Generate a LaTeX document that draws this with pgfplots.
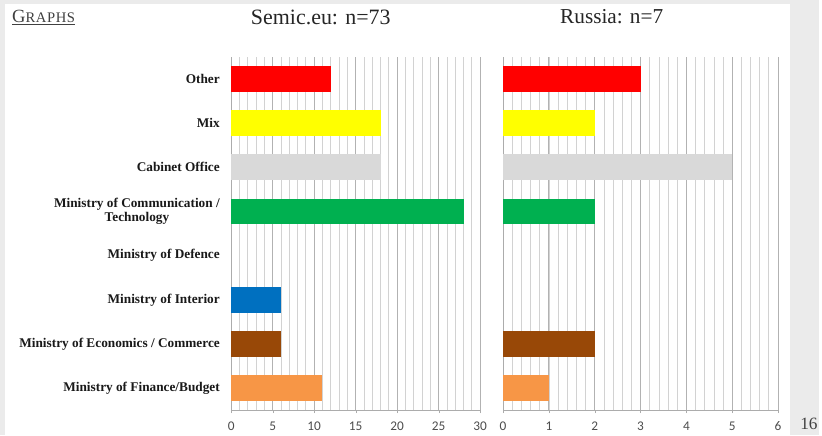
\documentclass[border=0pt]{standalone}
\usepackage{fontspec}
\setmainfont{Liberation Serif}
\newfontfamily\tickfont{Carlito}
\usepackage{pgfplots}
\pgfplotsset{compat=1.18}
\definecolor{cRed}{HTML}{FF0000}
\definecolor{cYellow}{HTML}{FFFF00}
\definecolor{cGray}{HTML}{D9D9D9}
\definecolor{cGreen}{HTML}{00B050}
\definecolor{cBlue}{HTML}{0070C0}
\definecolor{cBrown}{HTML}{984807}
\definecolor{cOrange}{HTML}{F79646}
\definecolor{bgGray}{HTML}{EBEBEB}
\definecolor{tickGray}{HTML}{4D4D4D}
\pgfplotsset{
  slidebar/.style={
    scale only axis,
    xbar, bar shift=0pt, bar width=19.5pt,
    height=266.25pt,
    ymin=-0.5, ymax=7.5,
    ytick={0,...,7},
    axis x line=bottom, axis y line=left,
    axis line style={-, gray!65},
    xmajorgrids, xminorgrids,
    major grid style={gray!60, line width=0.8pt},
    minor grid style={gray!35, line width=0.6pt},
    ytick style={draw=none},
    xtick style={gray!65},
    tick align=outside,
    major tick length=2pt, minor tick length=0pt,
    /pgf/number format/assume math mode=true,
    xticklabel style={font=\tickfont\fontsize{10}{10}\selectfont, text=tickGray, yshift=-3pt},
  }
}
\begin{document}
\begin{tikzpicture}
\fill[bgGray] (0,0) rectangle (616.5pt,327.75pt);
\fill[white] (3.75pt,0) rectangle (594.75pt,324.75pt);
\node[anchor=west, inner sep=0pt, text=black!75] at (9pt,314.25pt) {\underline{{\fontsize{14}{14}\selectfont G}{\fontsize{11}{11}\selectfont\addfontfeatures{LetterSpace=4}RAPHS}}};
\node[text=black!85, font=\fontsize{16.5}{17}\selectfont] at (241.5pt,315pt) {Semic.eu: n=73};
\node[text=black!85, font=\fontsize{16}{17}\selectfont] at (460.5pt,315pt) {Russia: n=7};
\node[text=black!75, font=\fontsize{13}{13}\selectfont] at (609pt,8.5pt) {16};

\begin{axis}[slidebar,
  at={(174pt,18.75pt)}, anchor=south west,
  width=187.5pt,
  xmin=0, xmax=30,
  xtick={0,5,...,30}, minor xtick={0,...,30},
  yticklabels={Ministry of Finance/Budget, Ministry of Economics / Commerce, Ministry of Interior, Ministry of Defence, {Ministry of Communication /\\ Technology}, Cabinet Office, Mix, Other},
  yticklabel style={font=\bfseries\fontsize{10}{10.5}\selectfont, align=center, text=black!90, xshift=-3pt},
]
\addplot[fill=cOrange, draw=none] coordinates {(11,0)};
\addplot[fill=cBrown, draw=none] coordinates {(6,1)};
\addplot[fill=cBlue, draw=none] coordinates {(6,2)};
\addplot[fill=cGreen, draw=none] coordinates {(28,4)};
\addplot[fill=cGray, draw=none] coordinates {(18,5)};
\addplot[fill=cYellow, draw=none] coordinates {(18,6)};
\addplot[fill=cRed, draw=none] coordinates {(12,7)};
\end{axis}

\begin{axis}[slidebar,
  at={(378.75pt,18.75pt)}, anchor=south west,
  width=207pt,
  xmin=0, xmax=6,
  xtick={0,...,6}, minor xtick={0,0.2,...,6},
  yticklabels={},
]
\addplot[fill=cOrange, draw=none] coordinates {(1,0)};
\addplot[fill=cBrown, draw=none] coordinates {(2,1)};
\addplot[fill=cGreen, draw=none] coordinates {(2,4)};
\addplot[fill=cGray, draw=none] coordinates {(5,5)};
\addplot[fill=cYellow, draw=none] coordinates {(2,6)};
\addplot[fill=cRed, draw=none] coordinates {(3,7)};
\end{axis}
\end{tikzpicture}
\end{document}
